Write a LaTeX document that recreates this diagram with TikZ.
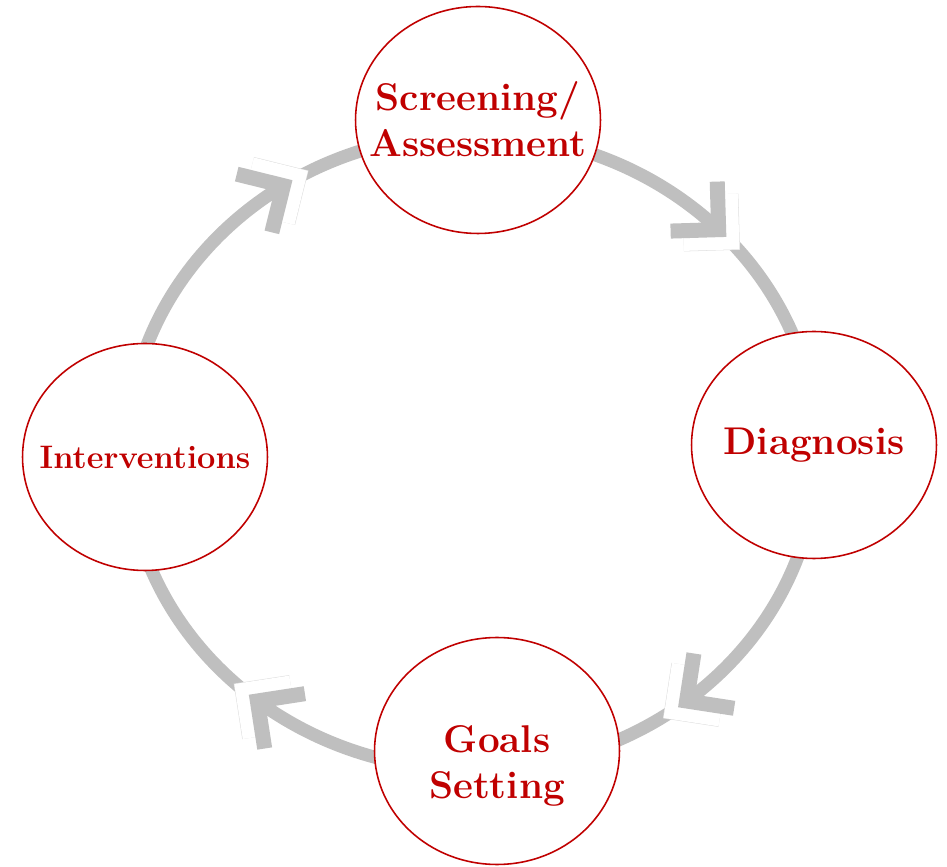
\documentclass[tikz,border=0pt]{standalone}
\usetikzlibrary{shapes.geometric,decorations.markings}
\definecolor{cyclered}{RGB}{192,0,0}
\definecolor{cyclegray}{RGB}{191,191,191}

\tikzset{
    stage/.style={ellipse, draw=cyclered, line width=0.9pt, fill=white,
        minimum width=4.9cm, minimum height=4.54cm, inner sep=0pt},
    stagetext/.style={text=cyclered, align=center,
        font=\bfseries\fontsize{22}{26}\selectfont},
    ringarc/.style={draw=cyclegray, line width=0.26cm},
    chev/.style={draw=cyclegray, line width=0.3cm, line join=miter},
    chevshade/.style={draw=gray!25, line width=0.3pt, double=white,
        double distance=0.3cm, line join=miter},
}

% open arrow head with its white shadow
\newcommand{\cyclehead}{%
    \draw[chevshade] (-16,34) -- (18,0) -- (-16,-34);
    \draw[chev] (-34,34) -- (0,0) -- (-34,-34);
}

\begin{document}
\begin{tikzpicture}[x=0.02cm, y=0.02cm]
    \useasboundingbox (0,0) rectangle (947,866);

    % ---------------- Ring ----------------
    \coordinate (hub) at (472,414);
    \foreach \a/\b/\p in {90/0/0.52, 0/-90/0.56, -90/-180/0.44, 180/90/0.62} {
        \draw[ringarc, decoration={markings, mark=at position \p with {\cyclehead}},
            postaction={decorate}]
            ([shift={(\a:345 and 318)}]hub) arc[start angle=\a, end angle=\b,
            x radius=345, y radius=318];
    }

    % ---------------- Stages ----------------
    \node[stage] (screen) at (478,746) {};
    \node[stagetext] (screentxt) at (478,747) {Screening/\\Assessment};

    \node[stage] (diag) at (814,421) {};
    \node[stagetext] (diagtxt) at (diag) {Diagnosis};

    \node[stage] (goals) at (497,115) {};
    \node[stagetext] (goalstxt) at (497,100) {Goals\\Setting};

    \node[stage] (interv) at (145,409) {};
    \node[stagetext, font=\bfseries\fontsize{18.5}{22}\selectfont] (intervtxt)
        at (interv) {Interventions};

\end{tikzpicture}
\end{document}
